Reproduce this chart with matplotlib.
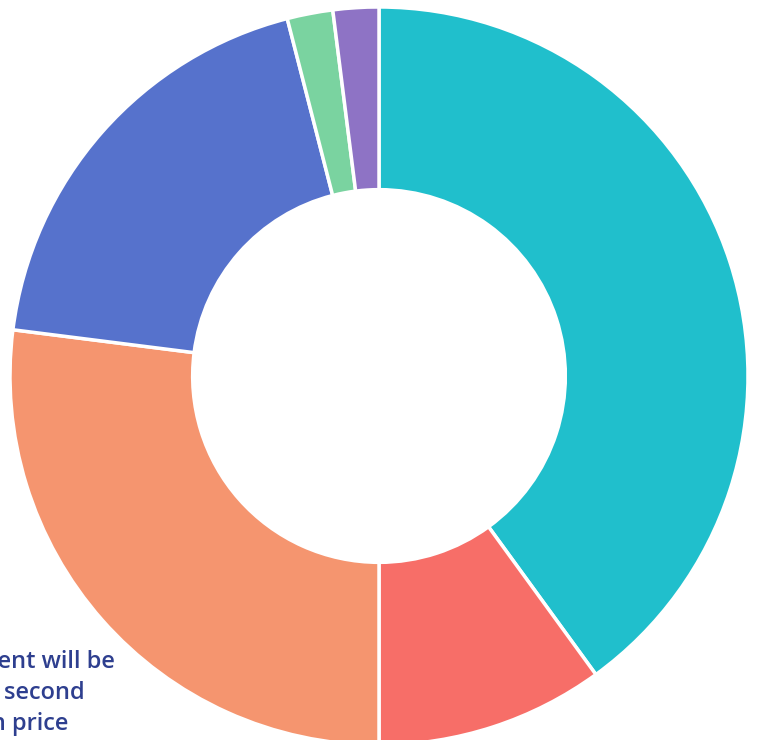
import matplotlib
matplotlib.use("Agg")
import matplotlib.pyplot as plt

labels = ["Teal", "Red", "Orange", "Blue", "Green", "Purple"]
values = [40, 10, 27, 19, 2, 2]
colors = ["#20BFCC", "#F76E68", "#F5956F", "#5672CC", "#7AD3A0", "#8E73C5"]

text_lines = ["The payment will be", "made at the second", "highest auction price"]

W, H = 759, 740
fig = plt.figure(figsize=(W / 100, H / 100), dpi=100)
ax = fig.add_axes([0, 0, 1, 1])

cx, cy, R = 379, H - 376, 369
ax.pie(values, colors=colors, startangle=90, counterclock=False,
       center=(cx, cy), radius=R, frame=True,
       wedgeprops=dict(width=R * 0.495, edgecolor="white", linewidth=2.5))
ax.set_xlim(0, W)
ax.set_ylim(0, H)
ax.set_aspect("equal")
ax.axis("off")

rights = [115, 85, 68]
ys = [H - 662, H - 693, H - 724]
for t, xr, yy in zip(text_lines, rights, ys):
    ax.text(xr, yy, t, ha="right", va="center", fontsize=17, color="#2E3F8F",
            family="Open Sans", fontweight="semibold", clip_on=False)

fig.savefig("out.png", dpi=100)
